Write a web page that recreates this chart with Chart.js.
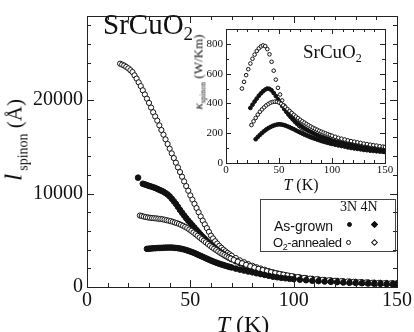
<!DOCTYPE html>
<html>
<head>
<meta charset="utf-8">
<script src="https://cdn.jsdelivr.net/npm/chart.js@4.4.1/dist/chart.umd.min.js"></script>
<style>
  body { margin: 0; background: #fff; }
  #wrap { position: relative; width: 414px; height: 332px; font-family: "Liberation Serif", serif; color: #111; }
  canvas { position: absolute; left: 0; top: 0; }
  .t { position: absolute; white-space: nowrap; line-height: 1; }
  .rot { transform: translate(-50%, -50%) rotate(-90deg); }
  .mk { position: absolute; width: 5px; height: 5px; box-sizing: border-box; border: 1px solid #111; }
</style>
</head>
<body>
<div id="wrap">
  <canvas id="main" width="414" height="332"></canvas>
  <canvas id="inset" width="414" height="332"></canvas>

  <div class="t" style="left:103px;top:10px;font-size:29px">SrCuO<span style="font-size:19px;position:relative;top:6px">2</span></div>
  <div class="t" style="left:303px;top:42px;font-size:19px">SrCuO<span style="font-size:12px;position:relative;top:4px">2</span></div>

  <div class="t rot" style="left:15px;top:140px;font-size:21px;line-height:21px"><i style="font-size:26px;margin-right:3px">l</i><span style="font-size:14px;position:relative;top:6px">spinon</span> (Å)</div>
  <div class="t" style="left:243px;top:312px;font-size:24px;transform:translateX(-50%)"><i>T</i> (K)</div>

  <div class="t rot" style="left:199px;top:72px;font-size:13px;line-height:13px"><i>κ</i><span style="font-size:8px;position:relative;top:3px">spinon</span> (W/Km)</div>
  <div class="t" style="left:301px;top:177px;font-size:16px;transform:translateX(-50%)"><i>T</i> (K)</div>

  <div style="position:absolute;left:260px;top:199px;width:136px;height:53px;border:1px solid #444;box-sizing:border-box"></div>
  <div class="t" style="left:340px;top:200px;font-size:14px">3N 4N</div>
  <div class="t" style="left:274px;top:219px;font-size:14px;font-family:'Liberation Sans',sans-serif">As-grown</div>
  <div class="t" style="left:273px;top:236px;font-size:13px;letter-spacing:-0.4px;font-family:'Liberation Sans',sans-serif">O<span style="font-size:9px;position:relative;top:3px">2</span>-annealed</div>
  <div class="mk" style="left:347px;top:222px;border-radius:50%;background:#111"></div>
  <div class="mk" style="left:372px;top:222px;transform:rotate(45deg);background:#111"></div>
  <div class="mk" style="left:346px;top:240px;border-radius:50%;background:#fff"></div>
  <div class="mk" style="left:372px;top:240px;transform:rotate(45deg);background:#fff"></div>
</div>

<script>
// mean free path l_spinon (Å) vs T (K)
var tAnn4N = [16,17,18,19,20,21,22,23,24,25,26,27,28,29,30,31,32,33,34,35,36,37,38,39,40,41,42,43,44,45,46,47,48,49,50,51,52,53,54,55,56,57,58,59,60,61,62,63,64,65,66,67,68,69,70,72,74,76,78,80,82,84,86,88,90,92,94,96,98,100,103,106,109,112,115,118,121,124,127,130,133,136,139,142,145,148,150];
var lAnn4N = [23900,23800,23700,23550,23400,23200,23000,22650,22300,21900,21500,21050,20600,20150,19700,19200,18700,18250,17800,17300,16800,16300,15800,15300,14800,14300,13800,13300,12800,12300,11800,11300,10800,10300,9800,9350,8900,8450,8000,7550,7100,6700,6300,5900,5500,5200,4900,4650,4400,4200,4000,3820,3650,3500,3350,3100,2850,2650,2450,2280,2120,1980,1850,1700,1580,1470,1370,1280,1190,1120,1030,950,880,820,760,710,665,625,590,560,530,500,475,455,435,415,405];

var tGrown4N = [24.7,27,28,29,30,31,32,33,34,35,36,37,38,39,40,41,42,43,44,45,46,47,48,49,50,51,52,53,54,55,56,57,58,59,60,61,62,63,64,65,66,67,68,69,70,72,74,76,78,80,82,84,86,88,90,92,94,96,98,100,103,106,109,112,115,118,121,124,127,130,133,136,139,142,145,148,150];
var lGrown4N = [11700,11050,10980,10900,10820,10750,10680,10600,10500,10400,10300,10200,10050,9900,9700,9450,9180,8900,8580,8250,7950,7650,7370,7100,6850,6600,6350,6100,5850,5600,5370,5150,4920,4700,4500,4300,4120,3950,3800,3650,3500,3350,3220,3100,2970,2750,2550,2380,2200,2050,1920,1780,1660,1550,1450,1360,1280,1200,1120,1060,970,890,820,760,700,650,605,565,530,495,465,435,410,385,360,340,325];

var tAnn3N = [25.6,26.5,27.5,28.5,29.5,30.5,31.5,32.5,33.5,34.5,35.5,36.5,37.5,38.5,39.5,40.5,41.5,42.5,43.5,44.5,45.5,46.5,47.5,48.5,49.5,50.5,51.5,52.5,53.5,54.5,55.5,56.5,57.5,58.5,59.5,60.5,61.5,62.5,63.5,64.5,65.5,66.5,67.5,68.5,69.5,71,73,75,77,79,81,83,85,87,89,91,93,95,97,99,102,105,108,111,114,117,120,123,126,129,132,135,138,141,144,147,150];
var lAnn3N = [7650,7600,7530,7480,7440,7410,7380,7360,7340,7310,7280,7250,7200,7150,7100,7050,6980,6900,6830,6750,6650,6550,6430,6300,6150,6000,5830,5650,5480,5300,5120,4950,4780,4600,4420,4250,4100,3950,3800,3650,3520,3400,3270,3150,3050,2900,2720,2550,2380,2230,2080,1950,1820,1700,1590,1490,1400,1320,1240,1170,1070,980,900,830,770,720,670,625,585,550,515,485,455,430,410,390,370];

var tGrown3N = [29,30,31,32,33,34,35,36,37,38,39,40,41,42,43,44,45,46,47,48,49,50,51,52,53,54,55,56,57,58,59,60,61,62,63,64,65,66,67,68,69,70,72,74,76,78,80,82,84,86,88,90,92,94,96,98,100,103,106,109,112,115,118,121,124,127,130,133,136,139,142,145,148,150];
var lGrown3N = [4080,4100,4120,4140,4150,4170,4180,4190,4200,4210,4220,4220,4220,4200,4180,4150,4120,4070,4020,3950,3880,3800,3720,3630,3530,3430,3330,3230,3130,3030,2930,2830,2740,2650,2570,2490,2420,2350,2280,2210,2150,2090,1970,1860,1760,1660,1570,1470,1380,1290,1200,1110,1040,980,930,880,840,780,725,675,630,590,550,515,485,455,430,405,380,360,340,320,305,290];

// inset: kappa_spinon (W/Km) vs T (K)
var tkAnn4N = [15,17,19,21,23,25,27,29,31,33,35,37,39,41,43,45,47,49,51,53,55,57,59,61,63,65,67,69,71,73,75,77,79,81,83,85,87,89,91,93,95,97,99,102,105,108,111,114,117,120,123,126,129,132,135,138,141,144,147,150];
var kAnn4N = [500,545,590,630,668,700,728,752,770,783,790,785,765,730,680,620,560,505,460,420,385,355,330,310,292,276,262,249,237,226,216,207,199,192,185,179,174,169,165,161,157,153,150,146,142,138,134,130,127,124,121,118,115,112,110,107,105,103,100,98];

var tkGrown4N = [23,25,27,29,31,33,35,37,39,41,43,45,47,49,51,53,55,57,59,61,63,65,67,69,71,73,75,77,79,81,83,85,87,89,91,93,95,97,99,102,105,108,111,114,117,120,123,126,129,132,135,138,141,144,147,150];
var kGrown4N = [370,392,413,433,452,468,482,493,500,498,488,470,450,428,405,383,362,343,325,309,295,282,270,259,248,238,229,220,212,205,198,191,185,179,174,169,164,159,155,149,143,138,133,128,124,119,115,111,107,104,100,97,94,91,87,84];

var tkAnn3N = [24,26,28,30,32,34,36,38,40,42,44,46,48,50,52,54,56,58,60,62,64,66,68,70,72,74,76,78,80,82,84,86,88,90,92,94,96,98,100,103,106,109,112,115,118,121,124,127,130,133,136,139,142,145,148,150];
var kAnn3N = [255,280,303,325,344,360,374,387,397,405,410,412,411,406,398,387,375,362,349,336,324,312,301,290,280,271,262,253,245,237,230,223,216,210,204,199,193,188,183,176,169,163,158,152,147,143,139,135,130,127,123,120,117,113,110,108];

var tkGrown3N = [28,30,32,34,36,38,40,42,44,46,48,50,52,54,56,58,60,62,64,66,68,70,72,74,76,78,80,82,84,86,88,90,92,94,96,98,100,103,106,109,112,115,118,121,124,127,130,133,136,139,142,145,148,150];
var kGrown3N = [160,175,189,202,214,225,234,242,249,254,258,260,259,256,252,246,240,233,227,219,212,205,198,191,185,179,173,168,163,158,153,148,144,140,136,132,128,123,118,114,110,105,101,98,95,92,88,86,83,81,79,77,75,74];

var mainXTicks = [0, 50, 100, 150];
var mainYTicks = [0, 10000, 20000];
var insetXTicks = [0, 50, 100, 150];
var insetYTicks = [0, 200, 400, 600, 800];

function pts(xs, ys) {
    return xs.map(function (x, i) { return { x: x, y: ys[i] }; });
}

function serie(xs, ys, filled, r) {
    return {
        data: pts(xs, ys),
        showLine: false,
        pointStyle: 'circle',
        pointRadius: r,
        pointBorderWidth: 1,
        pointBorderColor: '#111',
        pointBackgroundColor: filled ? '#111' : '#fff'
    };
}

// every minor tick position, step by step
function stepTicks(max, step) {
    var out = [];
    for (var v = 0; v <= max; v += step) out.push({ value: v });
    return out;
}

// frame with inward ticks on all four sides
var frameTicks = {
    id: 'frameTicks',
    afterDatasetsDraw(chart, args, o) {
        const ctx = chart.ctx, a = chart.chartArea, x = chart.scales.x, y = chart.scales.y;
        ctx.save();
        ctx.strokeStyle = '#222';
        ctx.lineWidth = 1;
        ctx.strokeRect(a.left + 0.5, a.top + 0.5, a.right - a.left, a.bottom - a.top);
        ctx.beginPath();
        x.ticks.forEach(function (t) {
            const px = Math.round(x.getPixelForValue(t.value)) + 0.5;
            const len = o.xMajor.indexOf(t.value) >= 0 ? o.major : o.minor;
            ctx.moveTo(px, a.bottom); ctx.lineTo(px, a.bottom - len);
            ctx.moveTo(px, a.top); ctx.lineTo(px, a.top + len);
        });
        y.ticks.forEach(function (t) {
            const py = Math.round(y.getPixelForValue(t.value)) + 0.5;
            const len = o.yMajor.indexOf(t.value) >= 0 ? o.major : o.minor;
            ctx.moveTo(a.left, py); ctx.lineTo(a.left + len, py);
            ctx.moveTo(a.right, py); ctx.lineTo(a.right - len, py);
        });
        ctx.stroke();
        ctx.restore();
    }
};

function axes(xmax, xstep, xlab, ymax, ystep, ylab, size, yWidth, xHeight, pad) {
    return {
        x: {
            type: 'linear', min: 0, max: xmax,
            afterFit(s) { s.height = xHeight; },
            afterBuildTicks(s) { s.ticks = stepTicks(xmax, xstep); },
            grid: { display: false, drawTicks: false },
            border: { display: false },
            ticks: {
                autoSkip: false, maxRotation: 0, padding: pad,
                color: '#111', font: { family: 'Liberation Serif', size: size },
                callback: function (v) { return xlab.indexOf(v) >= 0 ? v : ''; }
            }
        },
        y: {
            min: 0, max: ymax,
            afterFit(s) { s.width = yWidth; },
            afterBuildTicks(s) { s.ticks = stepTicks(ymax, ystep); },
            grid: { display: false, drawTicks: false },
            border: { display: false },
            ticks: {
                autoSkip: false, padding: pad + 2,
                color: '#111', font: { family: 'Liberation Serif', size: size },
                callback: function (v) { return ylab.indexOf(v) >= 0 ? v : ''; }
            }
        }
    };
}

new Chart(document.getElementById('main'), {
    type: 'scatter',
    data: {
        datasets: [
            serie(tGrown3N, lGrown3N, true, 2.8),
            serie(tAnn3N, lAnn3N, false, 2.6),
            serie(tGrown4N, lGrown4N, true, 2.8),
            serie(tAnn4N, lAnn4N, false, 2.6)
        ]
    },
    options: {
        responsive: false,
        animation: false,
        layout: { padding: { left: 0, right: 15, top: 2, bottom: 0 }, autoPadding: false },
        plugins: {
            legend: { display: false },
            tooltip: { enabled: false },
            frameTicks: { xMajor: mainXTicks, yMajor: mainYTicks, major: 7, minor: 4 }
        },
        scales: axes(150, 10, mainXTicks, 29000, 2000, mainYTicks, 20, 87, 45, 2)
    },
    plugins: [frameTicks]
});

new Chart(document.getElementById('inset'), {
    type: 'scatter',
    data: {
        datasets: [
            serie(tkGrown3N, kGrown3N, true, 1.9),
            serie(tkAnn3N, kAnn3N, false, 1.8),
            serie(tkGrown4N, kGrown4N, true, 1.9),
            serie(tkAnn4N, kAnn4N, false, 1.8)
        ]
    },
    options: {
        responsive: false,
        animation: false,
        layout: { padding: { left: 0, right: 29, top: 29, bottom: 0 }, autoPadding: false },
        plugins: {
            legend: { display: false },
            tooltip: { enabled: false },
            frameTicks: { xMajor: insetXTicks, yMajor: insetYTicks, major: 5, minor: 3 }
        },
        scales: axes(150, 10, insetXTicks, 900, 100, insetYTicks, 11, 226, 169, 1)
    },
    plugins: [frameTicks]
});
</script>
</body>
</html>
